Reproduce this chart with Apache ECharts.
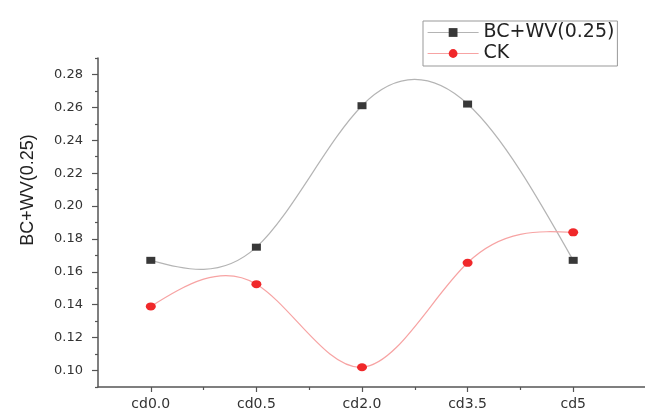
<!DOCTYPE html>
<html>
<head>
<meta charset="utf-8">
<script src="https://cdn.jsdelivr.net/npm/echarts@6/dist/echarts.min.js"></script>
<style>html,body{margin:0;padding:0;background:#fff;}#c{width:645px;height:411px;}</style>
</head>
<body>
<div id="c"></div>
<script>
const categories = ['cd0.0', 'cd0.5', 'cd2.0', 'cd3.5', 'cd5'];
const seriesNames = ['BC+WV(0.25)', 'CK'];
const bcwv = [0.167, 0.175, 0.261, 0.262, 0.167];
const ck = [0.139, 0.1525, 0.102, 0.1655, 0.184];
const yMajorTicks = [0.10, 0.12, 0.14, 0.16, 0.18, 0.20, 0.22, 0.24, 0.26, 0.28];
const yMinorTicks = [0.09, 0.11, 0.13, 0.15, 0.17, 0.19, 0.21, 0.23, 0.25, 0.27, 0.29];
const yAxisTitle = 'BC+WV(0.25)';

const xMajor = categories.map((c, i) => i);
const xMinor = categories.slice(1).map((c, i) => i + 0.5);
const axisColor = '#555';
const lineColors = ['#b4b4b4', '#f7a3a3'];
const markColors = ['#383838', '#f0282a'];

// Natural cubic spline through the pixel positions of the data (rendering only)
function splineRenderer(values, color) {
  return function (params, api) {
    const pts = values.map((v, i) => api.coord([i, v]));
    const n = pts.length - 1;
    const h = pts[1][0] - pts[0][0];
    const y = pts.map(p => p[1]);
    // solve tridiagonal for second derivatives (natural: M0 = Mn = 0)
    const M = new Array(n + 1).fill(0);
    const a = [], b = [], c = [], d = [];
    for (let i = 1; i < n; i++) {
      a.push(1); b.push(4); c.push(1);
      d.push(6 * (y[i + 1] - 2 * y[i] + y[i - 1]) / (h * h));
    }
    const m = d.length;
    for (let i = 1; i < m; i++) {
      const w = a[i] / b[i - 1];
      b[i] -= w * c[i - 1];
      d[i] -= w * d[i - 1];
    }
    const sol = new Array(m);
    for (let i = m - 1; i >= 0; i--) {
      sol[i] = (d[i] - (i < m - 1 ? c[i] * sol[i + 1] : 0)) / b[i];
    }
    for (let i = 0; i < m; i++) M[i + 1] = sol[i];
    const slope = [];
    for (let i = 0; i < n; i++) {
      slope[i] = (y[i + 1] - y[i]) / h - h * (2 * M[i] + M[i + 1]) / 6;
    }
    slope[n] = (y[n] - y[n - 1]) / h + h * (M[n - 1] + 2 * M[n]) / 6;
    let path = 'M' + pts[0][0] + ' ' + pts[0][1];
    for (let i = 0; i < n; i++) {
      const x0 = pts[i][0], x1 = pts[i + 1][0], dx = (x1 - x0) / 3;
      path += ' C' + (x0 + dx) + ' ' + (y[i] + slope[i] * dx) + ' ' +
        (x1 - dx) + ' ' + (y[i + 1] - slope[i + 1] * dx) + ' ' + x1 + ' ' + y[i + 1];
    }
    if (params.dataIndex !== 0) return null;
    return {
      type: 'path',
      shape: { pathData: path },
      style: { fill: 'none', stroke: color, lineWidth: 1.2 }
    };
  };
}

const chart = echarts.init(document.getElementById('c'));
chart.setOption({
  animation: false,
  backgroundColor: '#fff',
  grid: { left: 98, right: 0, top: 58, bottom: 23, containLabel: false },
  legend: {
    left: 423, top: 21, orient: 'vertical',
    padding: [2, 3, 3, 4],
    itemGap: 2, itemWidth: 51, itemHeight: 11, itemTextGap: 7,
    borderColor: '#999', borderWidth: 1,
    textStyle: { fontFamily: 'DejaVu Sans', fontSize: 19, color: '#222' },
    data: seriesNames.map((nm, i) => ({ name: nm, lineStyle: { color: lineColors[i], width: 1.2, opacity: 1 } }))
  },
  graphic: [{
    type: 'text', x: 28, y: 190, rotation: Math.PI / 2,
    style: { text: yAxisTitle, fontFamily: 'Liberation Sans', fontSize: 18, fill: '#222', align: 'center', verticalAlign: 'middle' }
  }],
  xAxis: [{
    type: 'value', min: -0.5, max: 4.68,
    axisLine: { show: true, onZero: false, lineStyle: { color: axisColor, width: 1.5 } },
    axisTick: { show: true, customValues: xMajor, length: 5, inside: false, lineStyle: { color: axisColor, width: 1.2 } },
    axisLabel: {
      customValues: xMajor, margin: 10,
      formatter: v => categories[Math.round(v)],
      fontFamily: 'DejaVu Sans', fontSize: 14, color: '#333'
    },
    splitLine: { show: false }
  }, {
    type: 'value', min: -0.5, max: 4.68, position: 'bottom',
    axisLine: { show: false, onZero: false },
    axisTick: { show: true, customValues: xMinor, length: 3, lineStyle: { color: axisColor, width: 1.2 } },
    axisLabel: { show: false },
    splitLine: { show: false }
  }],
  yAxis: [{
    type: 'value', min: 0.09, max: 0.29,
    axisLine: { show: true, onZero: false, lineStyle: { color: axisColor, width: 1.5 } },
    axisTick: { show: true, customValues: yMajorTicks, length: 6, lineStyle: { color: axisColor, width: 1.2 } },
    axisLabel: {
      customValues: yMajorTicks, margin: 15,
      formatter: v => v.toFixed(2),
      fontFamily: 'DejaVu Sans', fontSize: 13, color: '#333'
    },
    splitLine: { show: false }
  }, {
    type: 'value', min: 0.09, max: 0.29, position: 'left',
    axisLine: { show: false, onZero: false },
    axisTick: { show: true, customValues: yMinorTicks, length: 3, lineStyle: { color: axisColor, width: 1.2 } },
    axisLabel: { show: false },
    splitLine: { show: false }
  }],
  series: [{
    name: 'curve0', type: 'custom', xAxisIndex: 0, yAxisIndex: 0,
    renderItem: splineRenderer(bcwv, lineColors[0]),
    data: bcwv.map((v, i) => [i, v]), z: 2, silent: true
  }, {
    name: 'curve1', type: 'custom', xAxisIndex: 0, yAxisIndex: 0,
    renderItem: splineRenderer(ck, lineColors[1]),
    data: ck.map((v, i) => [i, v]), z: 2, silent: true
  }, {
    name: seriesNames[0], type: 'line',
    xAxisIndex: 0, yAxisIndex: 0,
    data: bcwv.map((v, i) => [i, v]),
    symbol: 'rect', symbolSize: [9, 7],
    itemStyle: { color: markColors[0] },
    lineStyle: { color: lineColors[0], width: 1.2, opacity: 0 },
    z: 3
  }, {
    name: seriesNames[1], type: 'line',
    xAxisIndex: 0, yAxisIndex: 0,
    data: ck.map((v, i) => [i, v]),
    symbol: 'circle', symbolSize: [10, 8],
    itemStyle: { color: markColors[1] },
    lineStyle: { color: lineColors[1], width: 1.2, opacity: 0 },
    z: 3
  }]
});
</script>
</body>
</html>
